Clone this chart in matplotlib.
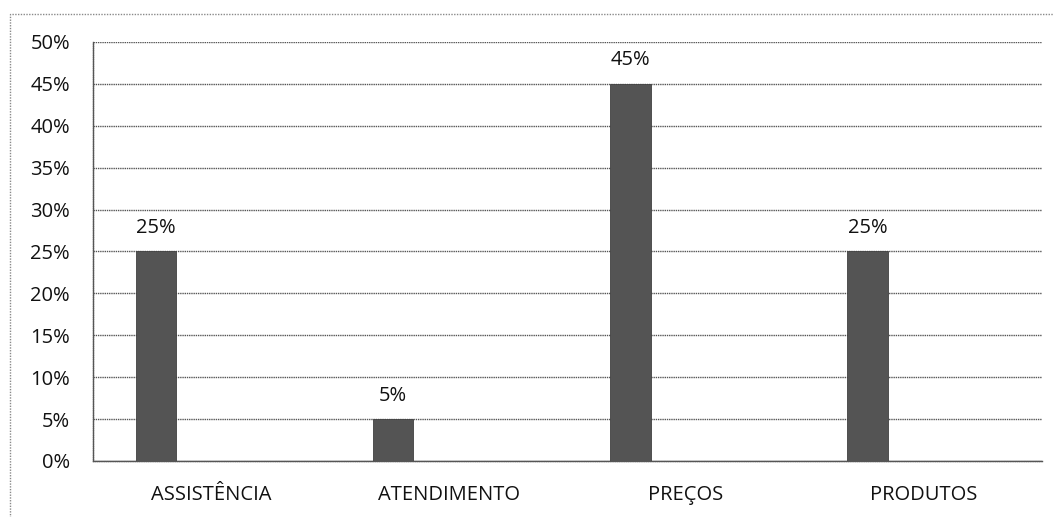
import matplotlib
matplotlib.use("Agg")
import matplotlib.pyplot as plt
from matplotlib.patches import Rectangle
import numpy as np

categories = ["ASSISTÊNCIA", "ATENDIMENTO", "PREÇOS", "PRODUTOS"]
values = [25, 5, 45, 25]
value_labels = ["25%", "5%", "45%", "25%"]
yticks = [0, 5, 10, 15, 20, 25, 30, 35, 40, 45, 50]
ytick_labels = [f"{v}%" for v in yticks]

W, H = 1054, 517
fig = plt.figure(figsize=(W / 100, H / 100), dpi=100)
fig.patch.set_facecolor("white")

# outer chart border (clipped at right and bottom as in the scan)
fig.add_artist(Rectangle((10 / W, -0.05), 1.1, 1 - 14 / H + 0.05,
                         transform=fig.transFigure, fill=False,
                         edgecolor="#8a8a8a", linewidth=1.0, linestyle=(0, (1, 1))))

left, right, top, bottom = 93, 1042, 42, 461
ax = fig.add_axes([left / W, 1 - bottom / H, (right - left) / W, (bottom - top) / H])

font = "Open Sans"
fs = 14.5
x = np.arange(len(categories))
offset = -0.235
width = 0.17
ax.bar(x + offset, values, width=width, color="#545454", edgecolor="#404040",
       linewidth=0.6, zorder=3)

for xi, v, lab in zip(x, values, value_labels):
    ax.text(xi + offset, v + 2.8, lab, ha="center", va="center",
            fontsize=fs, family=font, color="#111111")

ax.set_xlim(-0.5, len(categories) - 0.5)
ax.set_ylim(0, 50)
ax.set_yticks(yticks)
ax.set_yticklabels(ytick_labels, family=font, fontsize=fs, color="#111111")
ax.set_xticks(x)
ax.set_xticklabels(categories, family=font, fontsize=fs, color="#111111")
ax.tick_params(axis="y", length=0, pad=16.5)
ax.tick_params(axis="x", length=0, pad=17)

ax.grid(axis="y", color="#555555", linewidth=1.0, linestyle=(0, (1, 0.6)), zorder=0)
for s in ["top", "right"]:
    ax.spines[s].set_visible(False)
for s in ["left", "bottom"]:
    ax.spines[s].set_color("#555555")
    ax.spines[s].set_linestyle((0, (1, 0.6)))
    ax.spines[s].set_linewidth(1.0)

fig.savefig("out.png", dpi=100, facecolor="white")
